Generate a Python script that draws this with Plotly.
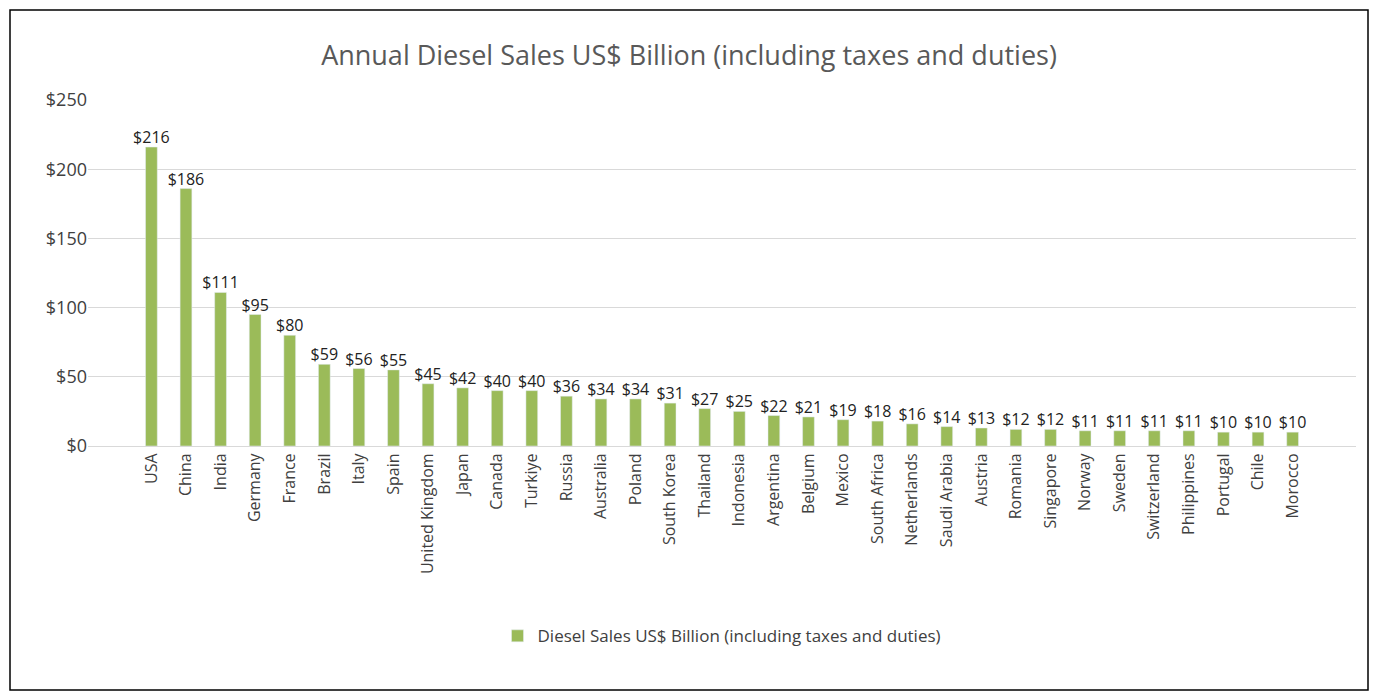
import plotly.graph_objects as go

# datos
paises = ["USA", "China", "India", "Germany", "France", "Brazil", "Italy", "Spain",
          "United Kingdom", "Japan", "Canada", "Turkiye", "Russia", "Australia", "Poland",
          "South Korea", "Thailand", "Indonesia", "Argentina", "Belgium", "Mexico",
          "South Africa", "Netherlands", "Saudi Arabia", "Austria", "Romania", "Singapore",
          "Norway", "Sweden", "Switzerland", "Philippines", "Portugal", "Chile", "Morocco"]
ventas = [216, 186, 111, 95, 80, 59, 56, 55, 45, 42, 40, 40, 36, 34, 34, 31, 27, 25, 22,
          21, 19, 18, 16, 14, 13, 12, 12, 11, 11, 11, 11, 10, 10, 10]

# la pagina tiene ~8px de margen, asi que el grafico es un poco mas chico
W, H = 1362, 684
ml, mr, mt, mb = 80, 14, 92, 246
pw, ph = W - ml - mr, H - mt - mb

fig = go.Figure()
fig.add_trace(go.Bar(
    x=paises, y=ventas,
    name="Diesel Sales US$ Billion (including taxes and duties)",
    marker_color="#9BBB59",
))
# etiquetas de los valores arriba de cada barra
fig.add_trace(go.Scatter(
    x=paises, y=ventas, mode="text", showlegend=False, cliponaxis=False,
    text=["$%d" % v for v in ventas], textposition="top center",
    textfont=dict(size=16, color="#222222", family="Open Sans"),
    hoverinfo="skip",
))

fig.update_layout(
    width=W, height=H,
    margin=dict(l=ml, r=mr, t=mt, b=mb),
    paper_bgcolor="white", plot_bgcolor="white",
    font=dict(family="Open Sans", color="#595959"),
    title=dict(text="Annual Diesel Sales US$ Billion (including taxes and duties)",
               x=0.5, xanchor="center", y=0.945, font=dict(size=27, color="#595959")),
    bargap=0.66,
    showlegend=True,
    legend=dict(orientation="h", x=0.5, xanchor="center", y=-0.55, yanchor="middle",
                font=dict(size=17, color="#404040")),
    xaxis=dict(tickangle=-90, tickfont=dict(size=16, color="#404040"),
               showline=True, linecolor="#d9d9d9", ticks=""),
    yaxis=dict(range=[0, 250], dtick=50, tickprefix="$", gridcolor="#d9d9d9",
               tickfont=dict(size=18, color="#404040"), zeroline=False),
    shapes=[dict(type="rect", xref="paper", yref="paper",
                 x0=(2 - ml) / pw, x1=(W - 2 - ml) / pw,
                 y0=-(H - 2 - mt - ph) / ph, y1=1 + (mt - 2) / ph,
                 line=dict(color="black", width=1.5))],
)

fig.write_html("out.html")
